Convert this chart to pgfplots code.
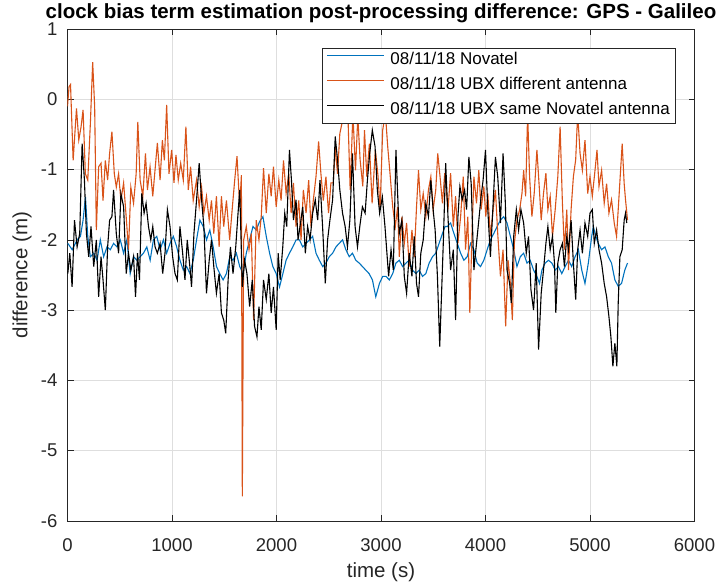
\documentclass[border=0pt]{standalone}
\usepackage{fontspec}
\setmainfont{Liberation Sans}
\usepackage{pgfplots}
\pgfplotsset{compat=1.18}

\definecolor{mblue}{rgb}{0,0.447,0.741}
\definecolor{morange}{rgb}{0.85,0.325,0.098}
\definecolor{mgray}{rgb}{0.15,0.15,0.15}

\newcommand\tickfont{\fontsize{18.5}{20}\selectfont}
\newcommand\labfont{\fontsize{20.5}{23}\selectfont}
\newcommand\legfont{\fontsize{17}{19}\selectfont}

\begin{document}
\begin{tikzpicture}
\begin{axis}[
    width=627pt, height=492pt, scale only axis,
    xmin=0, xmax=6000, ymin=-6, ymax=1,
    xtick={0,1000,2000,3000,4000,5000,6000},
    xticklabels={0,1000,2000,3000,4000,5000,6000},
    ytick={-6,-5,-4,-3,-2,-1,0,1},
    yticklabels={-6,-5,-4,-3,-2,-1,0,1},
    grid=major,
    major grid style={black!13, line width=0.6pt},
    axis line style={mgray, line width=0.7pt},
    tick style={mgray, line width=0.7pt},
    tick align=inside, major tick length=6pt,
    xticklabel style={font=\tickfont, text=mgray, anchor=north, inner sep=0pt, yshift=-17pt},
    yticklabel style={font=\tickfont, text=mgray, anchor=east, inner sep=0pt, xshift=-10pt},
    title={clock bias term estimation post-processing difference: GPS - Galileo},
    title style={font=\bfseries\labfont, at={(0.5,1)}, anchor=base, yshift=5pt, inner sep=0pt},
    xlabel={time (s)},
    xlabel style={font=\labfont, text=mgray, at={(0.5,0)}, anchor=base, yshift=-56.5pt, inner sep=0pt},
    ylabel={difference (m)},
    ylabel style={font=\labfont, text=mgray, at={(0,0.5)}, anchor=base, yshift=40pt, inner sep=0pt},
    legend image code/.code={\draw[#1] (0pt,5.5pt) -- (57pt,5.5pt); \path (62.5pt,0pt);},
    legend style={at={(0.969,0.961)}, anchor=north east, draw=mgray, fill=white,
        font=\legfont, inner xsep=5pt, inner ysep=4.5pt, row sep=9pt,
        nodes={inner sep=0pt, text height=12pt, text depth=4pt},
        cells={anchor=west}},
]

% 08/11/18 Novatel
\addplot[mblue, line width=1.1pt] coordinates {
(3,-2.05)(45,-2.14)(92,-2.00)(124,-1.95)(149,-1.72)(172,-1.39)(194,-1.95)(219,-2.24)
(251,-2.19)(283,-2.29)(314,-2.00)(346,-2.24)(378,-2.10)(410,-2.14)(441,-2.05)(473,-2.10)
(505,-2.00)(537,-2.19)(568,-2.00)(600,-2.48)(632,-2.24)(664,-2.29)(695,-2.24)(727,-2.19)
(759,-2.10)(791,-2.29)(822,-2.00)(854,-1.95)(886,-2.14)(918,-2.00)(949,-2.19)(981,-2.05)
(1013,-1.95)(1045,-2.10)(1076,-2.29)(1108,-2.43)(1140,-2.38)(1172,-2.48)(1203,-2.29)(1235,-2.00)
(1267,-1.72)(1299,-1.81)(1330,-2.00)(1362,-1.86)(1394,-2.10)(1426,-2.38)(1457,-2.48)(1489,-2.57)
(1521,-2.48)(1553,-2.24)(1584,-2.29)(1616,-2.19)(1648,-2.38)(1680,-2.48)(1711,-2.19)(1743,-2.00)
(1775,-1.81)(1806,-1.86)(1838,-1.74)(1870,-1.67)(1902,-1.95)(1934,-2.19)(1965,-2.38)(1997,-2.48)
(2029,-2.67)(2061,-2.48)(2092,-2.29)(2124,-2.19)(2156,-2.10)(2188,-2.00)(2219,-2.00)(2251,-2.10)
(2283,-2.05)(2315,-2.00)(2346,-1.95)(2378,-2.19)(2410,-2.29)(2442,-2.38)(2473,-2.33)(2505,-2.24)
(2537,-2.19)(2569,-2.10)(2600,-2.05)(2632,-2.00)(2664,-2.14)(2696,-2.24)(2727,-2.19)(2759,-2.29)
(2791,-2.33)(2823,-2.38)(2854,-2.43)(2886,-2.48)(2918,-2.57)(2950,-2.81)(2985,-2.62)(3016,-2.52)
(3048,-2.52)(3080,-2.57)(3112,-2.48)(3143,-2.33)(3175,-2.29)(3207,-2.38)(3239,-2.33)(3270,-2.29)
(3302,-2.43)(3334,-2.48)(3366,-2.43)(3397,-2.52)(3429,-2.48)(3461,-2.33)(3493,-2.24)(3524,-2.19)
(3556,-2.05)(3588,-1.91)(3613,-1.81)(3635,-1.81)(3666,-1.76)(3698,-1.91)(3730,-2.05)(3762,-2.19)
(3793,-2.29)(3825,-2.24)(3857,-2.05)(3889,-2.14)(3920,-2.33)(3952,-2.38)(3984,-2.29)(4016,-2.14)
(4047,-2.00)(4079,-1.91)(4111,-1.81)(4143,-1.72)(4174,-1.67)(4206,-1.76)(4238,-1.95)(4270,-2.14)
(4301,-2.38)(4333,-2.24)(4365,-2.19)(4397,-2.33)(4428,-2.29)(4460,-2.43)(4492,-2.52)(4517,-2.62)
(4540,-2.43)(4571,-2.33)(4603,-2.29)(4635,-2.33)(4667,-2.43)(4698,-2.38)(4730,-2.48)(4762,-2.38)
(4794,-2.29)(4825,-2.38)(4857,-2.24)(4889,-2.14)(4921,-2.43)(4952,-2.62)(4984,-2.33)(5016,-1.95)
(5032,-1.81)(5048,-1.91)(5079,-2.05)(5111,-2.14)(5143,-2.10)(5175,-2.24)(5206,-2.33)(5238,-2.57)
(5270,-2.66)(5302,-2.62)(5333,-2.43)(5359,-2.33)
};
\addlegendentry{08/11/18 Novatel}

% 08/11/18 UBX different antenna
\addplot[morange, line width=1.1pt] coordinates {
(0,-0.10)(15,0.18)(29,0.21)(54,-0.87)(86,-0.13)(108,-0.58)(130,-0.39)(149,-0.15)
(171,-1.06)(194,-1.15)(219,-0.34)(241,0.53)(260,-0.11)(276,-1.86)(298,-0.96)(321,-0.91)
(340,-1.44)(362,-0.87)(384,-1.15)(403,-0.77)(425,-0.46)(448,-1.06)(467,-1.25)(489,-1.06)
(511,-1.44)(537,-1.19)(559,-1.62)(584,-2.14)(606,-1.25)(632,-1.48)(657,-1.06)(673,-0.32)
(695,-1.15)(721,-1.38)(746,-0.77)(765,-1.29)(790,-0.96)(816,-1.38)(838,-1.00)(860,-0.62)
(886,-1.15)(908,-0.58)(927,-0.87)(949,-0.08)(971,-1.06)(997,-0.72)(1019,-1.19)(1038,-0.79)
(1060,-1.15)(1083,-0.91)(1108,-1.15)(1133,-0.39)(1156,-1.29)(1178,-0.96)(1203,-1.44)(1235,-1.15)
(1260,-1.53)(1283,-1.25)(1305,-1.62)(1330,-1.38)(1356,-1.72)(1378,-1.44)(1400,-1.91)(1425,-1.38)
(1451,-2.10)(1473,-1.38)(1495,-1.81)(1521,-1.44)(1552,-2.00)(1578,-1.53)(1600,-1.15)(1622,-0.81)
(1648,-1.53)(1664,-1.08)(1673,-5.65)(1686,-2.00)(1711,-1.81)(1737,-2.14)(1759,-1.91)(1781,-3.14)
(1806,-1.72)(1832,-2.00)(1854,-1.67)(1876,-0.98)(1902,-1.62)(1927,-1.06)(1949,-1.38)(1971,-0.96)
(1997,-1.53)(2022,-1.15)(2044,-1.44)(2067,-0.87)(2092,-1.34)(2117,-1.06)(2140,-1.62)(2162,-1.19)
(2187,-1.81)(2213,-1.44)(2235,-2.00)(2257,-1.29)(2283,-1.62)(2308,-1.15)(2330,-1.81)(2352,-1.44)
(2378,-1.10)(2403,-0.60)(2425,-1.06)(2448,-1.44)(2473,-1.10)(2498,-1.62)(2521,-1.19)(2543,-1.19)
(2562,-0.68)(2584,-1.06)(2606,-0.49)(2632,-0.30)(2683,-0.20)(2705,-1.29)(2731,-0.20)(2756,-1.01)
(2778,-0.25)(2800,-0.86)(2826,-1.24)(2842,-0.44)(2864,-1.10)(2889,-0.63)(2915,-1.48)(2946,-0.72)
(2972,-1.10)(2991,-1.57)(3016,-0.44)(3042,-0.20)(3064,-0.67)(3086,-1.05)(3112,-1.53)(3137,-1.81)
(3159,-1.53)(3175,-2.24)(3200,-1.67)(3223,-2.05)(3245,-1.76)(3270,-2.38)(3296,-1.86)(3318,-2.24)
(3340,-1.53)(3359,-1.01)(3381,-1.57)(3404,-1.34)(3429,-1.67)(3454,-1.29)(3477,-1.10)(3499,-1.57)
(3524,-1.29)(3543,-0.77)(3565,-1.10)(3588,-1.48)(3610,-1.05)(3641,-1.57)(3666,-1.05)(3692,-1.81)
(3714,-1.38)(3736,-2.05)(3762,-1.67)(3787,-1.10)(3809,-2.14)(3831,-1.67)(3850,-3.04)(3873,-1.81)
(3889,-1.10)(3914,-1.48)(3936,-1.01)(3958,-1.57)(3984,-1.24)(4003,-1.67)(4022,-1.34)(4047,-1.95)
(4073,-1.57)(4095,-1.29)(4117,-1.91)(4143,-2.52)(4168,-2.14)(4193,-3.23)(4216,-2.29)(4238,-2.62)
(4257,-3.14)(4276,-2.05)(4301,-1.72)(4327,-1.57)(4349,-1.34)(4365,-1.01)(4384,-1.38)(4403,-0.20)
(4422,-1.10)(4444,-1.67)(4466,-1.34)(4492,-0.72)(4514,-1.24)(4533,-1.72)(4555,-1.34)(4578,-1.05)
(4597,-1.57)(4619,-1.38)(4641,-1.95)(4667,-1.57)(4692,-1.10)(4714,-0.39)(4736,-1.48)(4755,-2.14)
(4778,-1.57)(4794,-2.43)(4819,-1.57)(4841,-1.10)(4863,-0.86)(4882,-0.20)(4905,-0.77)(4927,-1.01)
(4952,-0.58)(4978,-1.34)(5000,-1.10)(5022,-1.38)(5048,-1.01)(5067,-0.72)(5086,-1.24)(5111,-1.01)
(5136,-1.48)(5159,-1.20)(5181,-1.62)(5206,-1.43)(5232,-1.76)(5254,-1.95)(5270,-1.57)(5289,-1.10)
(5308,-0.63)(5327,-1.20)(5340,-1.43)(5359,-1.72)
};
\addlegendentry{08/11/18 UBX different antenna}

% 08/11/18 UBX same Novatel antenna
\addplot[black, line width=1.1pt] coordinates {
(3,-2.48)(22,-2.19)(44,-2.67)(67,-1.72)(92,-2.10)(117,-1.91)(140,-0.63)(162,-1.15)
(181,-1.91)(203,-2.24)(225,-1.81)(251,-2.38)(276,-2.00)(298,-2.81)(321,-2.24)(340,-2.57)
(362,-3.00)(384,-2.10)(403,-1.72)(425,-1.67)(441,-1.29)(467,-1.91)(489,-2.19)(511,-1.34)
(537,-1.53)(562,-2.48)(584,-2.19)(606,-2.43)(632,-2.24)(651,-2.81)(670,-2.19)(689,-2.57)
(711,-1.34)(733,-1.62)(752,-1.48)(775,-1.81)(797,-2.00)(816,-1.81)(838,-2.10)(860,-2.19)
(886,-2.05)(911,-2.48)(933,-2.19)(956,-1.57)(981,-1.81)(1006,-2.24)(1029,-2.48)(1051,-2.57)
(1076,-1.81)(1102,-2.19)(1124,-2.57)(1146,-2.00)(1171,-2.38)(1187,-2.67)(1210,-1.91)(1235,-1.43)
(1260,-0.91)(1283,-1.43)(1305,-1.81)(1330,-2.76)(1356,-2.29)(1378,-2.00)(1400,-2.38)(1425,-2.76)
(1451,-2.48)(1473,-3.04)(1495,-3.14)(1514,-3.33)(1537,-2.57)(1559,-2.10)(1584,-2.48)(1610,-2.10)
(1632,-1.62)(1648,-1.29)(1673,-2.67)(1695,-2.29)(1717,-2.48)(1743,-2.95)(1768,-2.57)(1790,-3.23)
(1813,-3.38)(1832,-2.95)(1854,-3.28)(1876,-2.57)(1902,-2.85)(1927,-2.48)(1949,-3.04)(1971,-2.67)
(1997,-3.28)(2016,-2.19)(2035,-2.57)(2060,-2.10)(2079,-1.62)(2098,-1.81)(2124,-0.72)(2143,-1.15)
(2162,-1.72)(2187,-1.43)(2206,-2.00)(2225,-1.81)(2251,-1.53)(2276,-2.19)(2298,-1.81)(2321,-2.00)
(2346,-1.62)(2371,-1.43)(2394,-1.72)(2416,-1.15)(2441,-1.81)(2467,-2.62)(2489,-2.00)(2511,-1.72)
(2537,-1.43)(2562,-0.53)(2584,-0.86)(2606,-1.29)(2632,-1.62)(2657,-1.81)(2679,-2.10)(2702,-1.72)
(2727,-0.77)(2752,-1.81)(2775,-2.10)(2797,-1.81)(2822,-1.53)(2848,-1.62)(2870,-1.15)(2892,-0.77)
(2917,-0.44)(2943,-0.67)(2965,-1.29)(2987,-1.62)(3013,-1.39)(3038,-1.81)(3073,-2.52)(3096,-2.14)
(3118,-2.43)(3143,-0.72)(3159,-1.34)(3175,-1.91)(3200,-1.72)(3223,-2.52)(3245,-2.76)(3270,-2.19)
(3296,-2.52)(3318,-1.95)(3340,-2.62)(3359,-2.81)(3381,-2.19)(3404,-2.00)(3429,-1.48)(3454,-1.67)
(3477,-1.15)(3499,-1.57)(3518,-1.86)(3540,-2.52)(3562,-3.52)(3596,-2.05)(3619,-0.91)(3641,-1.67)
(3666,-2.43)(3692,-2.14)(3714,-3.14)(3736,-1.67)(3755,-1.24)(3777,-1.43)(3800,-1.29)(3819,-1.57)
(3841,-0.82)(3863,-1.20)(3889,-2.43)(3914,-2.05)(3936,-1.72)(3958,-1.38)(3977,-1.15)(4000,-0.72)
(4022,-1.57)(4047,-2.24)(4073,-1.48)(4095,-0.82)(4117,-1.10)(4143,-1.76)(4168,-0.77)(4190,-1.48)
(4206,-2.43)(4231,-2.62)(4247,-2.90)(4270,-1.95)(4295,-1.57)(4317,-1.86)(4339,-1.57)(4365,-1.76)
(4390,-2.19)(4412,-1.95)(4435,-2.71)(4460,-3.00)(4485,-2.33)(4508,-3.56)(4533,-2.76)(4555,-2.43)
(4578,-2.05)(4597,-1.81)(4619,-2.14)(4641,-1.95)(4660,-2.33)(4673,-3.04)(4692,-2.33)(4714,-2.14)
(4736,-2.05)(4755,-2.38)(4778,-1.95)(4794,-2.14)(4819,-1.72)(4841,-2.33)(4863,-2.85)(4882,-2.14)
(4905,-1.86)(4927,-2.19)(4952,-1.76)(4978,-1.95)(5000,-1.62)(5022,-1.57)(5041,-2.05)(5063,-1.86)
(5086,-2.14)(5111,-2.33)(5136,-2.62)(5159,-2.81)(5181,-3.09)(5200,-3.38)(5219,-3.80)(5238,-3.47)
(5257,-3.80)(5270,-2.90)(5286,-2.24)(5308,-2.14)(5327,-1.72)(5340,-1.62)(5352,-1.76)
};
\addlegendentry{08/11/18 UBX same Novatel antenna}

\end{axis}
\pgfresetboundingbox
\path[use as bounding box] (-67.5pt,-66pt) rectangle (650.5pt,521pt);
\end{tikzpicture}
\end{document}
